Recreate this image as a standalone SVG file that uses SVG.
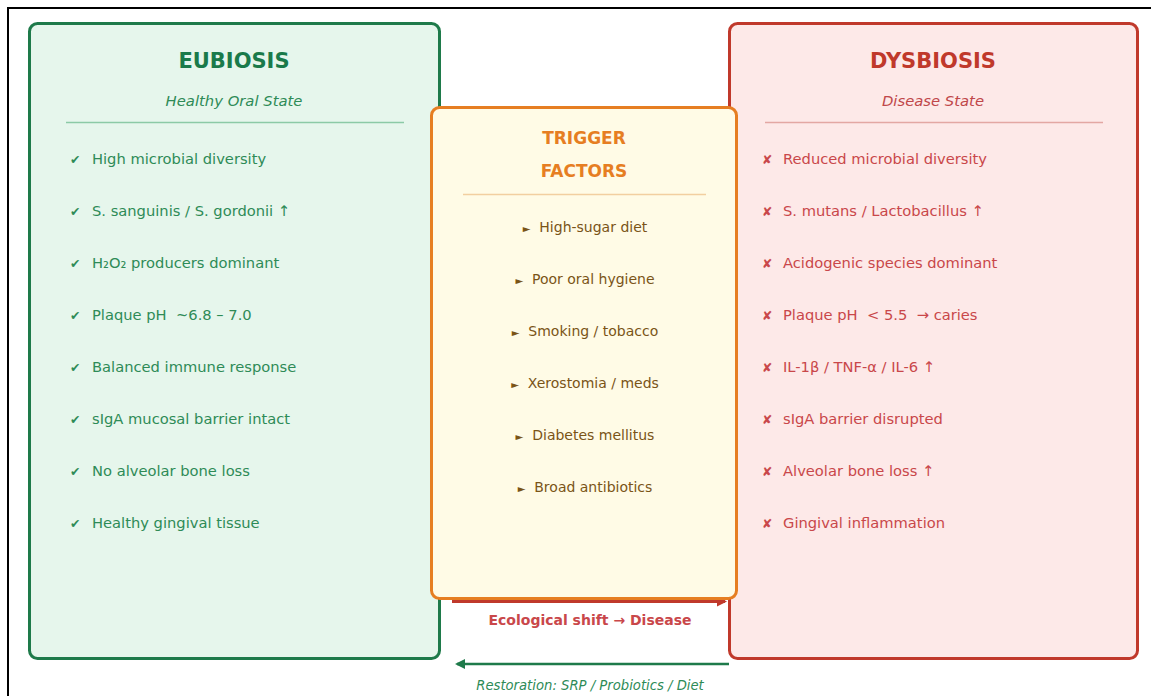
<svg xmlns="http://www.w3.org/2000/svg" width="1151" height="696" viewBox="0 0 1151 696">
<defs>
<style>
text{font-family:"DejaVu Sans","Liberation Sans",sans-serif;white-space:pre}
.ttl{font-size:21px;font-weight:bold;text-anchor:middle}
.sub{font-size:14.8px;font-style:italic;text-anchor:middle}
.it{font-size:14.7px}
.ic{font-size:12.5px;font-weight:bold}
.gi{fill:#2e8b57}
.ri{fill:#c9474a}
.ti{font-size:14px;fill:#7a5417;text-anchor:middle}
</style>
<marker id="ahR" viewBox="0 0 10 10" refX="8" refY="5" markerWidth="3.5" markerHeight="3.5" orient="auto"><path d="M0,0 L10,5 L0,10 z" fill="#c0392b"/></marker>
<marker id="ahG" viewBox="0 0 10 10" refX="8" refY="5" markerWidth="4" markerHeight="4" orient="auto"><path d="M0,0 L10,5 L0,10 z" fill="#1e7a4a"/></marker>
</defs>
<rect x="0" y="0" width="1151" height="696" fill="#fff"/>
<rect x="8" y="8" width="1160" height="700" fill="none" stroke="#000" stroke-width="2"/>
<g id="eubiosis">
<rect x="29.5" y="23.5" width="410" height="635" rx="8" fill="#e6f6ec" stroke="#1e7a4a" stroke-width="3"/>
<text class="ttl" x="234" y="68" fill="#1a7a4a">EUBIOSIS</text>
<text class="sub" x="234" y="106" fill="#2e8b57">Healthy Oral State</text>
<line x1="66" y1="122.5" x2="404" y2="122.5" stroke="#8ccaa6" stroke-width="1.5"/>
<g class="ic gi">
<text x="70" y="164">✔</text><text x="70" y="216">✔</text><text x="70" y="268">✔</text><text x="70" y="320">✔</text>
<text x="70" y="372">✔</text><text x="70" y="424">✔</text><text x="70" y="476">✔</text><text x="70" y="528">✔</text>
</g>
<g class="it gi">
<text x="92" y="164">High microbial diversity</text>
<text x="92" y="216">S. sanguinis / S. gordonii ↑</text>
<text x="92" y="268">H₂O₂ producers dominant</text>
<text x="92" y="320">Plaque pH&#160; ~6.8 – 7.0</text>
<text x="92" y="372">Balanced immune response</text>
<text x="92" y="424">sIgA mucosal barrier intact</text>
<text x="92" y="476">No alveolar bone loss</text>
<text x="92" y="528">Healthy gingival tissue</text>
</g>
</g>
<g id="dysbiosis">
<rect x="729.5" y="23.5" width="408" height="635" rx="8" fill="#fde9e8" stroke="#c0392b" stroke-width="3"/>
<text class="ttl" x="933" y="68" fill="#c0392b">DYSBIOSIS</text>
<text class="sub" x="933" y="106" fill="#c0474a">Disease State</text>
<line x1="765" y1="122.5" x2="1103" y2="122.5" stroke="#e3a7a3" stroke-width="1.5"/>
<g class="ic ri">
<text x="762" y="164">✘</text><text x="762" y="216">✘</text><text x="762" y="268">✘</text><text x="762" y="320">✘</text>
<text x="762" y="372">✘</text><text x="762" y="424">✘</text><text x="762" y="476">✘</text><text x="762" y="528">✘</text>
</g>
<g class="it ri">
<text x="783" y="164">Reduced microbial diversity</text>
<text x="783" y="216">S. mutans / Lactobacillus ↑</text>
<text x="783" y="268">Acidogenic species dominant</text>
<text x="783" y="320">Plaque pH&#160; &lt; 5.5&#160; → caries</text>
<text x="783" y="372">IL-1β / TNF-α / IL-6 ↑</text>
<text x="783" y="424">sIgA barrier disrupted</text>
<text x="783" y="476">Alveolar bone loss ↑</text>
<text x="783" y="528">Gingival inflammation</text>
</g>
</g>
<g id="connectors">
<line x1="452" y1="601.5" x2="725" y2="601.5" stroke="#c0392b" stroke-width="3" marker-end="url(#ahR)"/>
<line x1="729" y1="664" x2="457" y2="664" stroke="#1e7a4a" stroke-width="2.5" marker-end="url(#ahG)"/>
<text x="590" y="625" font-size="14" font-weight="bold" fill="#c9474a" text-anchor="middle">Ecological shift → Disease</text>
<text x="590" y="690" font-size="13.2" font-style="italic" fill="#2e8b57" text-anchor="middle">Restoration: SRP / Probiotics / Diet</text>
</g>
<g id="triggers">
<rect x="431.5" y="107.5" width="305" height="491" rx="8" fill="#fffbe6" stroke="#e67e22" stroke-width="3"/>
<text x="584" y="144" font-size="17" font-weight="bold" fill="#e67e22" text-anchor="middle">TRIGGER</text>
<text x="584" y="177" font-size="17" font-weight="bold" fill="#e67e22" text-anchor="middle">FACTORS</text>
<line x1="463" y1="194.5" x2="706" y2="194.5" stroke="#f2cfa0" stroke-width="1.5"/>
<text class="ti" x="585" y="232"><tspan font-size="10">►</tspan>&#160; High-sugar diet</text>
<text class="ti" x="585" y="284"><tspan font-size="10">►</tspan>&#160; Poor oral hygiene</text>
<text class="ti" x="585" y="336"><tspan font-size="10">►</tspan>&#160; Smoking / tobacco</text>
<text class="ti" x="585" y="388"><tspan font-size="10">►</tspan>&#160; Xerostomia / meds</text>
<text class="ti" x="585" y="440"><tspan font-size="10">►</tspan>&#160; Diabetes mellitus</text>
<text class="ti" x="585" y="492"><tspan font-size="10">►</tspan>&#160; Broad antibiotics</text>
</g>
</svg>
